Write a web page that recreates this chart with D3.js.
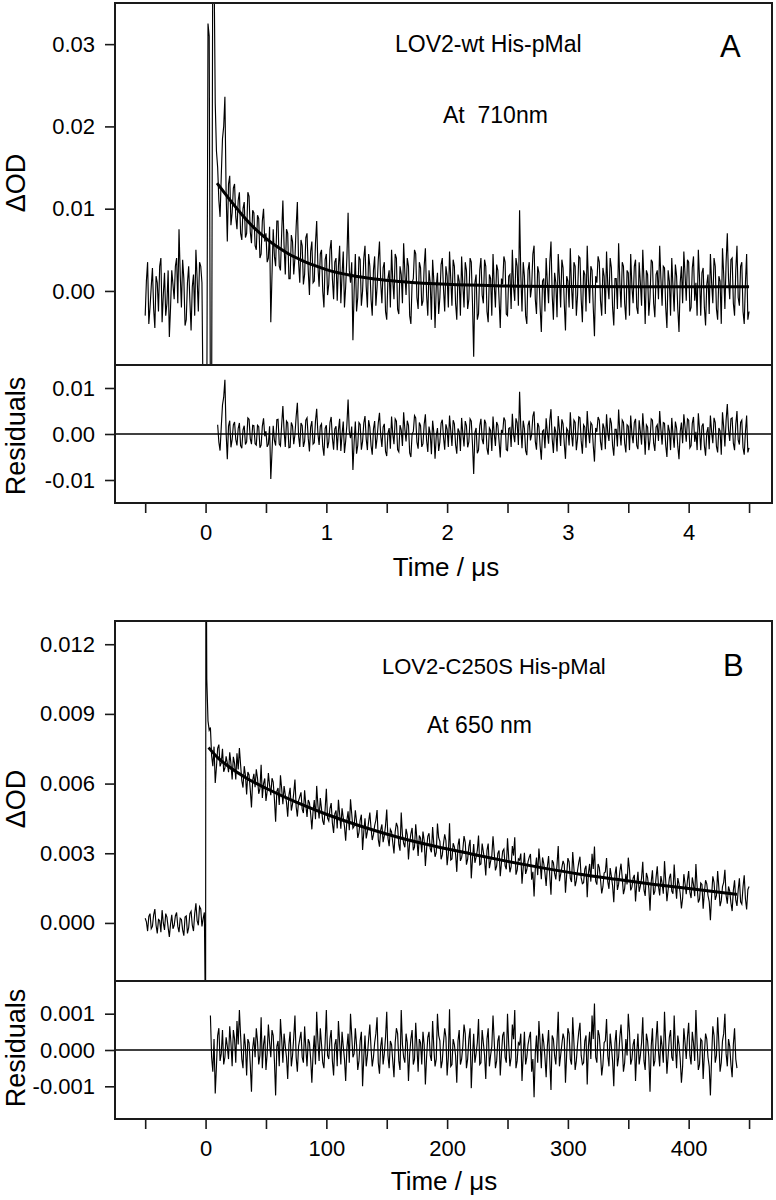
<!DOCTYPE html>
<html><head><meta charset="utf-8">
<script src="https://cdn.jsdelivr.net/npm/d3@7"></script>
<style>
body{margin:0;background:#fff}
svg text{font-family:"Liberation Sans",Arial,Helvetica,sans-serif;fill:#000}
</style></head><body>
<svg id="chart" width="776" height="1200"></svg>
<script>
// ---------------- Panel A data (LOV2-wt His-pMal, 710 nm) ----------------
const aStart = -0.5, aStep = 0.01, aUnit = 1e-4;   // time in µs, values in 1e-4 ΔOD
const aSignal = [
 -30, 12, 35, -40, -20, 5, 28, -22, -45, 18,
 10, -25, 30, 40, -38, -5, 22, -30, -15, 25,
 -56, -20, 25, 8, -10, 30, 40, -15, 75, 20,
 -20, 38, 15, -42, -35, 10, 30, -12, -48, 5,
 20, -30, 50, 15, -25, 35, 30, 10, -150, -150,
 -150, -150, 325, 310, -150, -150, 450, 400, 228, 170,
 150, 110, 90, 140, 185, 200, 236, 120, 60, 130,
 140, 80, 95, 125, 130, 90, 75, 110, 120, 70,
 62, 100, 108, 65, 70, 120, 115, 72, 58, 98,
 95, 55, 50, 92, 88, 40, 45, 85, 100, 60,
 70, 35, 40, 78, -38, 20, 75, 42, 30, 85,
 85, 30, 25, 70, 110, 55, 20, 75, 70, 15,
 15, 68, 60, 20, 40, 78, 108, 35, 10, 62,
 55, 8, 20, 65, 70, 25, -5, 48, 60, 10,
 12, 58, 85, 30, 5, 45, 50, 0, -20, 38,
 45, -5, 8, 50, 62, 15, -10, 35, 40, -12,
 30, 55, -15, 20, 48, -20, 5, 40, 95, 25,
 10, 35, -60, 0, 45, -25, -8, 42, 38, -18,
 0, 40, 55, 5, -20, 45, 30, -10, -30, 25,
 42, -18, 5, 38, 60, 10, -15, 28, 35, -25,
 -35, 15, 25, -20, 50, 12, -10, 45, 40, -22,
 -28, 30, 20, -15, 58, 22, -5, 40, 30, -30,
 -40, 10, 15, 50, 45, -8, -22, 35, 28, -18,
 -12, 30, 52, -5, -30, 25, 10, -35, 38, 12,
 -45, 5, 22, -28, -8, 32, 40, 2, -25, 30,
 18, -20, 48, 15, -18, 38, 30, -15, -35, 20,
 12, -30, 42, 8, -20, 35, 25, -22, -10, 40,
 35, -15, -80, 10, 20, -35, -28, 25, 40, -5,
 -15, 38, 30, -25, -38, 20, 15, -30, 45, 8,
 -20, 32, 25, -10, -45, 15, 8, 42, 35, -28,
 -30, 18, 20, -22, 50, 5, -12, 40, 30, -18,
 98, 20, -25, 35, 18, -30, -40, 25, 35, -8,
 5, 45, 55, -10, -28, 30, 22, -20, -50, 12,
 15, -25, 40, 10, -15, 35, 60, -5, -35, 22,
 10, -32, 45, 15, -20, 38, 28, -15, -48, 18,
 12, -20, 52, 5, -22, 35, 30, -30, -5, 42,
 40, -10, -38, 25, 20, -25, 55, 12, -15, 30,
 25, -20, -55, 18, 10, 42, 35, -12, -30, 28,
 18, -28, 48, 8, -10, 40, 28, -20, -42, 15,
 15, -22, 58, 10, -20, 35, 30, -15, -35, 25,
 22, -30, 45, 5, -15, 30, 38, -20, -28, 35,
 10, -18, 50, 12, -40, 25, 20, -30, -8, 38,
 35, -15, -32, 20, 25, -10, 55, 15, -18, 30,
 28, -20, -45, 25, 12, -30, 40, 5, -25, 32,
 18, -22, -50, 10, 30, -15, 48, 20, -12, 38,
 35, -25, -20, 28, 42, -12, 10, -30, 50, 15,
 -30, 22, 28, -20, -42, 8, 20, -28, 45, 10,
 -15, 40, 30, -22, -35, 18, 12, -40, 52, 20,
 -22, 35, 70, 15, -10, 38, 40, -15, -30, 25,
 55, -8, -18, 30, 35, -25, -40, 10, 45, -35,
 -25
];
const aFitT = [0.095, 0.2, 0.3, 0.4, 0.5, 0.6, 0.7, 0.8, 0.9, 1.0, 1.2, 1.4, 1.6, 1.8, 2.0, 2.4, 3.0, 3.6, 4.5];
const aFitV = [0.0131, 0.0111, 0.0093, 0.0077, 0.0064, 0.0053, 0.0044, 0.0037, 0.0031, 0.0026, 0.0019, 0.00145, 0.00115, 0.00095, 0.0008, 0.00063, 0.00054, 0.00051, 0.0005];
const aResStart = 0.1;                                 // residuals, 1e-4 ΔOD
const aResidual = [
 20, -18, -36, 16, 63, 80, 118, 3, -55, 17,
 29, -29, -12, 20, 26, -12, -25, 12, 24, -25,
 -31, 9, 18, -23, -17, 35, 32, -10, -22, 19,
 18, -21, -24, 19, 16, -30, -24, 17, 34, -5,
 6, -28, -22, 17, -98, -38, 18, -14, -25, 31,
 32, -22, -26, 20, 61, 7, -28, 28, 24, -30,
 -29, 25, 17, -22, -1, 38, 68, -4, -28, 24,
 18, -28, -16, 30, 35, -9, -38, 15, 28, -22,
 -19, 28, 55, 1, -24, 17, 22, -27, -47, 12,
 19, -31, -17, 25, 37, -9, -34, 11, 17, -35,
 8, 33, -37, -1, 27, -41, -15, 20, 75, 6,
 -9, 16, -78, -18, 27, -43, -25, 25, 21, -34,
 -16, 24, 39, -11, -35, 30, 15, -25, -45, 11,
 28, -32, -9, 24, 46, -3, -28, 15, 22, -38,
 -48, 2, 13, -32, 38, 0, -22, 33, 28, -34,
 -39, 19, 9, -26, 47, 11, -16, 29, 19, -41,
 -50, 0, 5, 40, 35, -18, -32, 25, 18, -28,
 -21, 21, 43, -14, -39, 16, 1, -44, 29, 3,
 -54, -4, 13, -37, -17, 23, 31, -7, -34, 21,
 10, -28, 40, 7, -26, 30, 22, -23, -43, 12,
 5, -37, 35, 1, -27, 28, 18, -29, -17, 33,
 28, -22, -87, 3, 13, -42, -35, 18, 33, -12,
 -22, 31, 23, -32, -45, 13, 8, -37, 38, 1,
 -26, 26, 19, -16, -51, 9, 2, 36, 29, -34,
 -36, 12, 14, -28, 44, -1, -18, 34, 24, -24,
 92, 14, -31, 29, 12, -36, -46, 19, 29, -14,
 -1, 39, 49, -16, -34, 24, 16, -26, -56, 6,
 9, -31, 34, 4, -21, 29, 54, -11, -41, 16,
 4, -38, 39, 9, -26, 32, 22, -21, -54, 12,
 7, -25, 47, 0, -27, 30, 25, -35, -10, 37,
 35, -15, -43, 20, 15, -30, 50, 7, -20, 25,
 20, -25, -60, 13, 5, 37, 30, -17, -35, 23,
 13, -33, 43, 3, -15, 35, 23, -25, -47, 10,
 10, -27, 53, 5, -25, 30, 25, -20, -40, 20,
 17, -35, 40, 0, -20, 25, 33, -25, -33, 30,
 5, -23, 45, 7, -45, 20, 15, -35, -13, 33,
 30, -20, -37, 15, 20, -15, 50, 10, -23, 25,
 23, -25, -50, 20, 7, -35, 35, 0, -30, 27,
 13, -27, -55, 5, 25, -20, 43, 15, -17, 33,
 30, -30, -25, 23, 37, -17, 5, -35, 45, 10,
 -35, 17, 23, -25, -47, 3, 15, -33, 40, 5,
 -20, 35, 25, -27, -40, 13, 7, -45, 47, 15,
 -27, 30, 65, 10, -15, 33, 35, -20, -35, 20,
 50, -13, -23, 25, 30, -30, -45, 5, 40, -40,
 -30
];
const aXTicks = [-0.5, 0, 0.5, 1, 1.5, 2, 2.5, 3, 3.5, 4, 4.5];
const aXLabels = [0, 1, 2, 3, 4];
const aYTicks = [0, 0.01, 0.02, 0.03];
const aResTicks = [-0.01, 0, 0.01];

// ---------------- Panel B data (LOV2-C250S His-pMal, 650 nm) ----------------
const bStart = -50, bStep = 1, bUnit = 1e-5;         // time in µs, values in 1e-5 ΔOD
const bSignal = [
 20, 5, -35, 28, 40, -25, -15, 35, 60, -10,
 -45, 15, 10, -40, 55, 0, -30, 40, 25, -20,
 -60, -5, 35, -25, -10, 30, 45, -15, -40, 20,
 15, -30, -55, 25, 30, -45, -20, 40, 50, -10,
 -35, 40, 85, 10, -10, 70, 60, -15, 20, 45,
 -500, 1050, 870, 830, 841, 720, 675, 759, 603, 672,
 752, 768, 674, 689, 750, 651, 667, 717, 688, 649,
 735, 686, 618, 715, 687, 618, 730, 661, 753, 680,
 612, 583, 675, 636, 553, 650, 637, 574, 497, 614,
 642, 584, 661, 623, 556, 578, 681, 538, 600, 622,
 525, 567, 645, 592, 550, 623, 606, 533, 436, 568,
 581, 508, 636, 578, 511, 589, 552, 519, 457, 549,
 582, 484, 512, 559, 617, 500, 458, 526, 544, 562,
 490, 473, 571, 508, 456, 529, 517, 470, 403, 481,
 529, 447, 590, 507, 450, 538, 491, 439, 422, 490,
 578, 451, 439, 492, 516, 429, 387, 470, 484, 407,
 530, 468, 406, 494, 453, 416, 354, 442, 481, 399,
 532, 470, 408, 416, 485, 438, 366, 389, 443, 466,
 314, 392, 451, 364, 393, 436, 475, 408, 357, 380,
 419, 442, 486, 359, 328, 401, 424, 348, 376, 419,
 488, 366, 330, 403, 392, 345, 299, 392, 431, 414,
 338, 311, 475, 379, 343, 326, 405, 379, 273, 346,
 385, 409, 313, 326, 425, 359, 288, 376, 365, 304,
 393, 356, 245, 319, 373, 386, 320, 304, 413, 336,
 285, 304, 428, 367, 351, 274, 293, 342, 381, 355,
 249, 298, 429, 271, 275, 343, 327, 296, 220, 334,
 363, 267, 281, 315, 374, 347, 251, 275, 329, 358,
 192, 276, 340, 259, 283, 312, 376, 250, 254, 342,
 306, 270, 204, 313, 342, 236, 265, 289, 373, 302,
 226, 245, 299, 312, 201, 260, 309, 318, 247, 231,
 365, 279, 218, 242, 331, 290, 369, 208, 227, 276,
 270, 299, 169, 238, 302, 211, 230, 264, 283, 297,
 186, 220, 114, 233, 282, 206, 320, 259, 188, 282,
 256, 215, 159, 243, 288, 202, 121, 270, 259, 213,
 187, 251, 331, 180, 209, 238, 267, 251, 130, 209,
 279, 263, 192, 176, 305, 234, 158, 182, 227, 261,
 285, 194, 169, 173, 232, 246, 111, 215, 254, 178,
 298, 232, 329, 180, 165, 254, 238, 187, 127, 156,
 215, 219, 279, 178, 147, 236, 201, 160, 89, 208,
 243, 142, 167, 221, 255, 194, 124, 148, 212, 166,
 281, 230, 140, 154, 193, 207, 92, 166, 220, 134,
 159, 193, 263, 142, 116, 215, 195, 149, 53, 177,
 227, 121, 136, 195, 244, 158, 118, 202, 172, 126,
 266, 180, 94, 143, 193, 212, 137, 126, 251, 165,
 104, 193, 168, 127, 62, 106, 210, 169, 124, 183,
 223, 132, 107, 196, 166, 115, 254, 158, 88, 102,
 172, 166, 61, 130, 184, 168, 118, 92, 12, 116,
 201, 175, 99, 118, 223, 152, 72, 96, 156, 175,
 229, 118, 83, 157, 137, 86, 51, 140, 184, 98,
 73, 142, 192, 91, 81, 155, 205, 104, 58, 143,
 157
];
const bSpikeT = [0.3];
const bSpikeV = [0.02];
const bFitT = [2.5, 10, 20, 35, 50, 75, 100, 130, 160, 190, 220, 250, 280, 310, 340, 370, 400, 440];
const bFitV = [0.00755, 0.00712, 0.0067, 0.0062, 0.0058, 0.0052, 0.00468, 0.00414, 0.00368, 0.0033, 0.00297, 0.00265, 0.00236, 0.0021, 0.00188, 0.00167, 0.00148, 0.00123];
const bResStart = 4;                                   // residuals, 1e-5 ΔOD
const bResidual = [
 95, -20, -60, 30, -120, -45, 40, 60, -30, -10,
 55, -40, -20, 35, 10, -25, 65, 20, -45, 55,
 30, -35, 80, 15, 110, 40, -25, -50, 45, 10,
 -70, 30, 20, -40, -115, 5, 35, -20, 60, 25,
 -40, -15, 90, -50, 15, 40, -55, -10, 70, 20,
 -20, 55, 40, -30, -125, 10, 25, -45, 85, 30,
 -35, 45, 10, -20, -80, 15, 50, -45, -15, 35,
 95, -20, -60, 10, 30, 50, -20, -35, 65, 5,
 -45, 30, 20, -25, -90, -10, 40, -40, 105, 25,
 -30, 60, 15, -35, -50, 20, 110, -15, -25, 30,
 55, -30, -70, 15, 30, -45, 80, 20, -40, 50,
 10, -25, -85, 5, 45, -35, 100, 40, -20, -10,
 60, 15, -55, -30, 25, 50, -100, -20, 40, -45,
 -15, 30, 70, 5, -45, -20, 20, 45, 90, -35,
 -65, 10, 35, -40, -10, 35, 105, -15, -50, 25,
 15, -30, -75, 20, 60, 45, -30, -55, 110, 15,
 -20, -35, 45, 20, -85, -10, 30, 55, -40, -25,
 75, 10, -60, 30, 20, -40, 50, 15, -95, -20,
 35, 50, -15, -30, 80, 5, -45, -25, 100, 40,
 25, -50, -30, 20, 60, 35, -70, -20, 112, -45,
 -40, 30, 15, -15, -90, 25, 55, -40, -25, 10,
 70, 45, -50, -25, 30, 60, -105, -20, 45, -35,
 -10, 20, 85, -40, -35, 55, 20, -15, -80, 30,
 60, -45, -15, 10, 95, 25, -50, -30, 25, 40,
 -70, -10, 40, 50, -20, -35, 100, 15, -45, -20,
 70, 30, 110, -50, -30, 20, 15, 45, -85, -15,
 50, -40, -20, 15, 35, 50, -60, -25, -130, -10,
 40, -35, 80, 20, -50, 45, 20, -20, -75, 10,
 55, -30, -110, 40, 30, -15, -40, 25, 105, -45,
 -15, 15, 45, 30, -90, -10, 60, 45, -25, -40,
 90, 20, -55, -30, 15, 50, 75, -15, -40, -35,
 25, 40, -95, 10, 50, -25, 95, 30, 128, -20,
 -35, 55, 40, -10, -70, -40, 20, 25, 85, -15,
 -45, 45, 10, -30, -100, 20, 55, -45, -20, 35,
 70, 10, -60, -35, 30, -15, 100, 50, -40, -25,
 15, 30, -85, -10, 45, -40, -15, 20, 90, -30,
 -55, 45, 25, -20, -115, 10, 60, -45, -30, 30,
 80, -5, -45, 40, 10, -35, 105, 20, -65, -15,
 35, 55, -20, -30, 95, 10, -50, 40, 15, -25,
 -90, -45, 60, 20, -25, 35, 75, -15, -40, 50,
 20, -30, 110, 15, -55, -40, 30, 25, -80, -10,
 45, 30, -20, -45, -125, -20, 65, 40, -35, -15,
 90, 20, -60, -35, 25, 45, 100, -10, -45, 30,
 10, -40, -75, 15, 60, -25, -50
];
const bXTicks = [-50, 0, 50, 100, 150, 200, 250, 300, 350, 400, 450];
const bXLabels = [0, 100, 200, 300, 400];
const bYTicks = [0, 0.003, 0.006, 0.009, 0.012];
const bResTicks = [-0.001, 0, 0.001];

// ---------------- drawing ----------------
const svg = d3.select("#chart");
const FONT_TICK = 22;

function series(start, step, vals, unit) {
  return vals.map((v, i) => [start + i * step, v * unit]);
}

function panel(cfg) {
  const {id, left, right, top, mid, bottom, xDom, yDom, rDom, signal, fit, resid,
         xTicks, xLabels, yTicks, rTicks, yFmt, texts} = cfg;
  const x = d3.scaleLinear().domain(xDom).range([left, right]);
  const y = d3.scaleLinear().domain(yDom).range([mid, top]);
  const r = d3.scaleLinear().domain(rDom).range([bottom, mid]);

  const defs = svg.append("defs");
  defs.append("clipPath").attr("id", id + "m").append("rect")
    .attr("x", left).attr("y", top).attr("width", right - left).attr("height", mid - top);
  defs.append("clipPath").attr("id", id + "r").append("rect")
    .attr("x", left).attr("y", mid).attr("width", right - left).attr("height", bottom - mid);

  const line = (sx, sy) => d3.line().x(d => sx(d[0])).y(d => sy(d[1]));

  const gm = svg.append("g").attr("clip-path", `url(#${id}m)`);
  gm.append("path").datum(signal).attr("d", line(x, y))
    .attr("fill", "none").attr("stroke", "#000").attr("stroke-width", 1.15);
  gm.append("path").datum(fit).attr("d", line(x, y).curve(d3.curveMonotoneX))
    .attr("fill", "none").attr("stroke", "#000").attr("stroke-width", 3);

  const gr = svg.append("g").attr("clip-path", `url(#${id}r)`);
  gr.append("path").datum(resid).attr("d", line(x, r))
    .attr("fill", "none").attr("stroke", "#000").attr("stroke-width", 1.15);
  gr.append("line").attr("x1", left).attr("x2", right).attr("y1", r(0)).attr("y2", r(0))
    .attr("stroke", "#000").attr("stroke-width", 1.5);

  // frames
  svg.append("rect").attr("x", left).attr("y", top).attr("width", right - left).attr("height", mid - top)
    .attr("fill", "none").attr("stroke", "#1a1a1a").attr("stroke-width", 2);
  svg.append("rect").attr("x", left).attr("y", mid).attr("width", right - left).attr("height", bottom - mid)
    .attr("fill", "none").attr("stroke", "#1a1a1a").attr("stroke-width", 2);

  function styleAxis(g) {
    g.attr("font-size", null).attr("font-family", null);
    g.select(".domain").remove();
    g.selectAll(".tick line").attr("stroke", "#1a1a1a").attr("stroke-width", 1.6);
    g.selectAll(".tick text").style("font-size", FONT_TICK + "px");
  }
  svg.append("g").attr("transform", `translate(${left},0)`)
    .call(d3.axisLeft(y).tickValues(yTicks).tickSize(10).tickPadding(10).tickFormat(yFmt))
    .call(styleAxis);
  svg.append("g").attr("transform", `translate(${left},0)`)
    .call(d3.axisLeft(r).tickValues(rTicks).tickSize(10).tickPadding(10).tickFormat(yFmt))
    .call(styleAxis);
  svg.append("g").attr("transform", `translate(0,${bottom})`)
    .call(d3.axisBottom(x).tickValues(xTicks).tickSize(10).tickPadding(11)
      .tickFormat(d => xLabels.includes(d) ? String(d) : ""))
    .call(styleAxis);

  texts.forEach(t => {
    const el = svg.append("text").attr("x", t.x).attr("y", t.y)
      .style("font-size", t.size + "px").attr("text-anchor", t.anchor || "start")
      .style("white-space", "pre").attr("xml:space", "preserve").text(t.s);
    if (t.rot) el.attr("transform", `rotate(-90,${t.x},${t.y})`);
  });
}

panel({
  id: "pa", left: 115, right: 772, top: 3, mid: 365, bottom: 503,
  xDom: [-0.75, 4.69], yDom: [-0.009, 0.035], rDom: [-0.015, 0.015],
  signal: series(aStart, aStep, aSignal, aUnit),
  fit: aFitT.map((t, i) => [t, aFitV[i]]),
  resid: series(aResStart, aStep, aResidual, aUnit),
  xTicks: aXTicks, xLabels: aXLabels, yTicks: aYTicks, rTicks: aResTicks,
  yFmt: d => d.toFixed(2),
  texts: [
    {s: "LOV2-wt His-pMal", x: 395, y: 52, size: 23},
    {s: "At  710nm", x: 443, y: 123, size: 23},
    {s: "A", x: 720, y: 57, size: 31},
    {s: "ΔOD", x: 25, y: 183, size: 27, anchor: "middle", rot: true},
    {s: "Residuals", x: 25, y: 436, size: 27, anchor: "middle", rot: true},
    {s: "Time / μs", x: 446, y: 576, size: 26, anchor: "middle"}
  ]
});

const sigB = series(bStart, bStep, bSignal, bUnit)
  .concat(bSpikeT.map((t, i) => [t, bSpikeV[i]]))
  .sort((p, q) => p[0] - q[0]);
panel({
  id: "pb", left: 115, right: 772, top: 621, mid: 981, bottom: 1119,
  xDom: [-75, 469], yDom: [-0.0025, 0.013], rDom: [-0.0019, 0.0019],
  signal: sigB,
  fit: bFitT.map((t, i) => [t, bFitV[i]]),
  resid: series(bResStart, bStep, bResidual, bUnit),
  xTicks: bXTicks, xLabels: bXLabels, yTicks: bYTicks, rTicks: bResTicks,
  yFmt: d => d.toFixed(3),
  texts: [
    {s: "LOV2-C250S His-pMal", x: 382, y: 674, size: 22},
    {s: "At 650 nm", x: 427, y: 733, size: 23},
    {s: "B", x: 723, y: 676, size: 31},
    {s: "ΔOD", x: 25, y: 799, size: 27, anchor: "middle", rot: true},
    {s: "Residuals", x: 25, y: 1048, size: 27, anchor: "middle", rot: true},
    {s: "Time / μs", x: 444, y: 1190, size: 26, anchor: "middle"}
  ]
});
</script>
</body></html>
